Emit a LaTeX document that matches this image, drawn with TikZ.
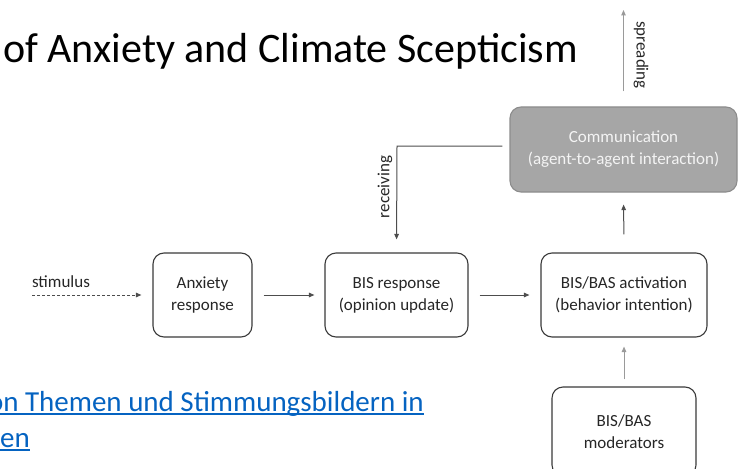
\documentclass[tikz,border=0pt]{standalone}
\usepackage{fontspec}
\setmainfont{Carlito}
\usetikzlibrary{arrows.meta}
\definecolor{boxline}{HTML}{3A3A3A}
\definecolor{boxtext}{HTML}{262626}
\definecolor{linegray}{HTML}{4D4D4D}
\definecolor{lightline}{HTML}{9A9A9A}
\definecolor{commfill}{HTML}{A6A6A6}
\definecolor{commline}{HTML}{8C8C8C}
\definecolor{commtext}{HTML}{F4F4F4}
\definecolor{linkblue}{HTML}{0563C1}
\begin{document}
\begin{tikzpicture}[x=1pt,y=-1pt,
  box/.style={draw=boxline,line width=1.1pt,rounded corners=11pt,fill=white,align=center,
    text=boxtext,font=\fontsize{17}{22}\selectfont,inner sep=0pt},
  commbox/.style={box,draw=commline,fill=commfill,text=commtext},
  conn/.style={draw=linegray,line width=1pt,-{Triangle[length=5.5pt,width=4.5pt]}},
  lbl/.style={text=boxtext,font=\fontsize{17}{20}\selectfont,inner sep=0pt},
  title/.style={text=black,font=\fontsize{42}{50}\selectfont,inner sep=0pt,anchor=base west},
  linktext/.style={text=linkblue,font=\fontsize{29}{36}\selectfont,inner sep=0pt,anchor=base west}]
\useasboundingbox (0,0) rectangle (743,468);
\clip (0,0) rectangle (743,468);

% title and link text
\node[title] (ttl) at (3,63) {of Anxiety and Climate Scepticism};
\node[linktext] (lk1) at (-25,411) {von Themen und Stimmungsbildern in};
\node[linktext] (lk2) at (0,447) {en};
\draw[linkblue,line width=1.6pt] ([yshift=-3pt]lk1.base west) -- ([yshift=-3pt]lk1.base east);
\draw[linkblue,line width=1.6pt] ([yshift=-3pt]lk2.base west) -- ([yshift=-3pt]lk2.base east);

% boxes
\node[box,minimum width=99pt,minimum height=84pt] (anx) at (202.5,295) {Anxiety\\response};
\node[box,minimum width=143pt,minimum height=84pt] (bis) at (396.5,295) {BIS response\\(opinion update)};
\node[box,minimum width=166pt,minimum height=84pt] (act) at (624,295) {BIS/BAS activation\\(behavior intention)};
\node[commbox,minimum width=227pt,minimum height=85pt] (comm) at (623.5,149.5) {Communication\\(agent-to-agent interaction)};
\node[box,minimum width=144pt,minimum height=89pt] (mod) at (624,431.5) {BIS/BAS\\moderators};

% free ends
\coordinate (stim) at (32,295);
\coordinate (rcorner) at (397,146);
\coordinate (sptop) at (623,10);

% labels
\node[lbl] (stimlbl) at (61,282) {stimulus};
\node[lbl,rotate=90] (rcvlbl) at (385,187) {receiving};
\node[lbl,rotate=-90] (sprlbl) at (641,55) {spreading};

% connectors
\draw[conn,dashed,dash pattern=on 3pt off 2pt,shorten >=11pt] (stim) -- (anx.west);
\draw[conn,shorten <=11pt,shorten >=10pt] (anx.east) -- (bis.west);
\draw[conn,shorten <=11pt,shorten >=11pt] (bis.east) -- (act.west);
\draw[conn,shorten <=18pt,shorten >=12pt] (act.north) -- (comm.south);
\draw[conn,draw=lightline,shorten <=7pt,shorten >=9pt] (mod.north) -- (act.south);
\draw[conn,shorten <=7pt,shorten >=13pt] (comm.west |- rcorner) -- (rcorner) -- (bis.north);
\draw[conn,draw=lightline,shorten <=15pt] (comm.north) -- (comm.north |- sptop);
\end{tikzpicture}
\end{document}
